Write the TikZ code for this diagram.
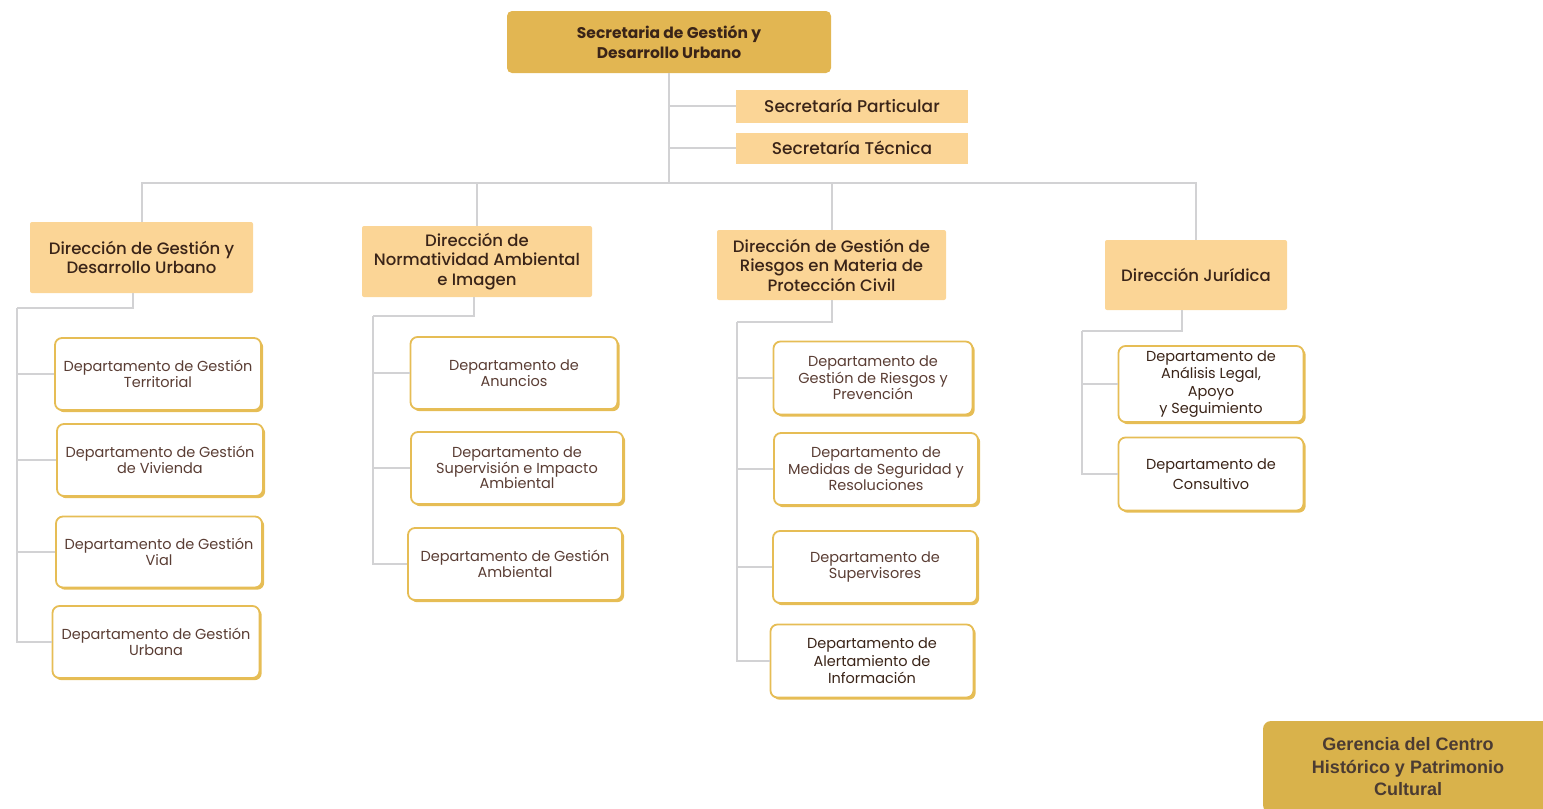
\documentclass[tikz,border=0pt]{standalone}
\usepackage{fontspec}
\setmainfont{Poppins}
\newfontfamily\medf{Poppins Medium}
\newfontfamily\arialf{Liberation Sans}
\definecolor{topfill}{HTML}{E2B652}
\definecolor{dirfill}{HTML}{FBD596}
\definecolor{gerfill}{HTML}{D9B24B}
\definecolor{goldline}{HTML}{E6BD55}
\definecolor{conncol}{HTML}{D2D2D4}
\definecolor{txtdark}{HTML}{3A2418}
\definecolor{txtdept}{HTML}{5A3D34}
\tikzset{
  conn/.style={draw=conncol, line width=2pt},
  topbox/.style={fill=topfill, rounded corners=5pt, align=center, text=txtdark, font=\bfseries\fontsize{15.5}{20}\selectfont, inner sep=0pt},
  secbox/.style={fill=dirfill, align=center, text=txtdark, font=\medf\fontsize{17}{20}\selectfont, inner sep=0pt},
  dirbox/.style={fill=dirfill, rounded corners=2pt, align=center, text=txtdark, font=\medf\fontsize{16.5}{19.5}\selectfont, inner sep=0pt},
  deptbox/.style={draw=goldline, line width=1.8pt, fill=white, rounded corners=7pt, align=center, text=txtdept, font=\fontsize{14.5}{15.5}\selectfont, inner sep=0pt,
    preaction={fill=goldline, transform canvas={xshift=2.2pt,yshift=-2.2pt}}},
  deptwide/.style={deptbox, text=txtdark, font=\fontsize{14.5}{17.5}\selectfont},
  gerbox/.style={fill=gerfill, rounded corners=8pt, align=center, text=txtdark!75!gray, font=\arialf\bfseries\fontsize{18}{22.5}\selectfont, inner sep=0pt},
}
\begin{document}
\begin{tikzpicture}[x=1pt,y=-1pt]
\useasboundingbox (0,0) rectangle (1543,809);
% top
\node[topbox, minimum width=324, minimum height=62] (top) at (669,42) {Secretaria de Gestión y\\Desarrollo Urbano};
\node[secbox, minimum width=232, minimum height=33] (sp) at (852,106) {Secretaría Particular};
\node[secbox, minimum width=232, minimum height=31] (st) at (852,148) {Secretaría Técnica};
% directions
\node[dirbox, minimum width=223, minimum height=71] (d1) at (141.5,257.5) {Dirección de Gestión y\\Desarrollo Urbano};
\node[dirbox, minimum width=230, minimum height=71] (d2) at (477,261.5) {Dirección de\\Normatividad Ambiental\\e Imagen};
\node[dirbox, minimum width=229, minimum height=70] (d3) at (831.5,265) {Dirección de Gestión de\\Riesgos en Materia de\\Protección Civil};
\node[dirbox, minimum width=182, minimum height=70] (d4) at (1196,275) {Dirección Jurídica};
% departments col 1
\node[deptbox, minimum width=206, minimum height=72] (a1) at (158,374) {Departamento de Gestión\\Territorial};
\node[deptbox, minimum width=206, minimum height=72] (a2) at (160,460) {Departamento de Gestión\\de Vivienda};
\node[deptbox, minimum width=206, minimum height=71] (a3) at (159,552) {Departamento de Gestión\\Vial};
\node[deptbox, minimum width=207, minimum height=72] (a4) at (156,642) {Departamento de Gestión\\Urbana};
% col 2
\node[deptbox, minimum width=207, minimum height=72] (b1) at (514,373) {Departamento de\\Anuncios};
\node[deptbox, minimum width=212, minimum height=72] (b2) at (517,468) {Departamento de\\Supervisión e Impacto\\Ambiental};
\node[deptbox, minimum width=214, minimum height=72] (b3) at (515,564) {Departamento de Gestión\\Ambiental};
% col 3
\node[deptbox, font=\fontsize{14.5}{16.5}\selectfont, minimum width=199, minimum height=73] (c1) at (873,378) {Departamento de\\Gestión de Riesgos y\\Prevención};
\node[deptbox, font=\fontsize{14.5}{16.5}\selectfont, minimum width=204, minimum height=72] (c2) at (876,469) {Departamento de\\Medidas de Seguridad y\\Resoluciones};
\node[deptbox, minimum width=204, minimum height=72] (c3) at (875,567) {Departamento de\\Supervisores};
\node[deptwide, minimum width=203, minimum height=73] (c4) at (872,661) {Departamento de\\Alertamiento de\\Información};
% col 4
\node[deptwide, minimum width=185, minimum height=76] (e1) at (1211,384) {Departamento de\\Análisis Legal,\\Apoyo\\y Seguimiento};
\node[deptwide, font=\fontsize{14.5}{20}\selectfont, minimum width=185, minimum height=73] (e2) at (1211,474) {Departamento de\\Consultivo};
% gerencia
\node[gerbox, minimum width=290, minimum height=92] (g) at (1408,767) {Gerencia del Centro\\Histórico y Patrimonio\\Cultural};
% connectors top
\coordinate (bus) at (669,183);
\draw[conn] (top.south) -- (bus);
\draw[conn] (top.south) |- (sp.west);
\draw[conn] (top.south) |- (st.west);
\draw[conn] (d1.north) |- (bus) -| (d4.north);
\draw[conn] (d2.north) -- (d2.north |- bus);
\draw[conn] (d3.north) -- (d3.north |- bus);
% col 1 connectors
\coordinate (j1) at (133,308);
\coordinate (r1) at (17,308);
\draw[conn] (d1.south -| j1) -- (j1) -- (r1);
\foreach \n in {a1,a2,a3,a4} \draw[conn] (r1) |- (\n.west);
% col 2
\coordinate (j2) at (474,316);
\coordinate (r2) at (373,316);
\draw[conn] (d2.south -| j2) -- (j2) -- (r2);
\foreach \n in {b1,b2,b3} \draw[conn] (r2) |- (\n.west);
% col 3
\coordinate (j3) at (832,322);
\coordinate (r3) at (737,322);
\draw[conn] (d3.south -| j3) -- (j3) -- (r3);
\foreach \n in {c1,c2,c3,c4} \draw[conn] (r3) |- (\n.west);
% col 4
\coordinate (j4) at (1182,331);
\coordinate (r4) at (1082,331);
\draw[conn] (d4.south -| j4) -- (j4) -- (r4);
\foreach \n in {e1,e2} \draw[conn] (r4) |- (\n.west);
\end{tikzpicture}
\end{document}
